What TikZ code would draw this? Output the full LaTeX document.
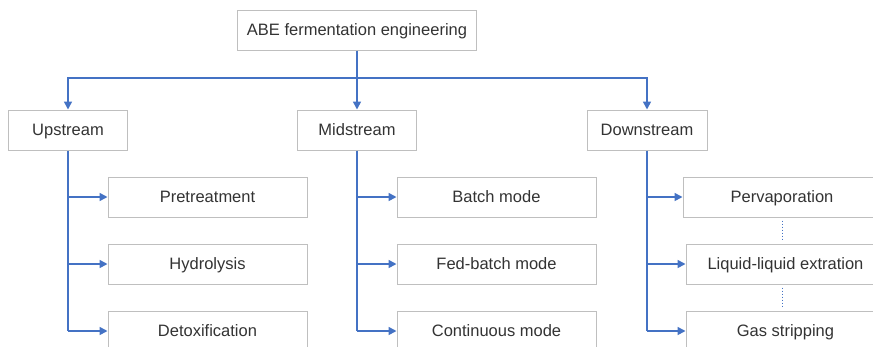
\documentclass[tikz,border=0pt]{standalone}
\usepackage{fontspec}
\setmainfont{Liberation Sans}
\usetikzlibrary{arrows.meta}
\definecolor{linkblue}{HTML}{4472C4}
\definecolor{boxgray}{HTML}{BFBFBF}
\definecolor{textgray}{HTML}{333333}
\tikzset{
  box/.style={draw=boxgray, line width=1pt, fill=white, inner sep=0pt,
    minimum height=40pt, text=textgray, text height=13pt, text depth=3pt,
    font=\fontsize{16.5}{19}\selectfont},
  trunk/.style={draw=linkblue, line width=1.6pt},
  flow/.style={trunk, -{Triangle[length=8pt,width=8pt]}},
  link/.style={draw=linkblue, line width=1pt, dotted, shorten >=3pt, shorten <=3pt}
}
\begin{document}
\begin{tikzpicture}[x=1pt,y=-1pt]
  \useasboundingbox (0,0) rectangle (873,346);
  \clip (0,0) rectangle (873,346);
  \fill[white] (0,0) rectangle (873,346);

  % root and the three stages
  \node[box, minimum width=239pt] (abe) at (357,30) {ABE fermentation engineering};
  \node[box, minimum width=119pt] (up)   at (68,130)  {Upstream};
  \node[box, minimum width=119pt] (mid)  at (357,130) {Midstream};
  \node[box, minimum width=120pt] (down) at (647,130) {Downstream};

  % upstream steps
  \node[box, minimum width=199pt] (pre) at (207.5,197) {Pretreatment};
  \node[box, minimum width=199pt] (hyd) at (207.5,264) {Hydrolysis};
  \node[box, minimum width=199pt] (det) at (207.5,331) {Detoxification};

  % midstream modes
  \node[box, minimum width=199pt] (bat) at (496.5,197) {Batch mode};
  \node[box, minimum width=199pt] (fed) at (496.5,264) {Fed-batch mode};
  \node[box, minimum width=199pt] (con) at (496.5,331) {Continuous mode};

  % downstream separations
  \node[box, minimum width=198pt] (per) at (782,197)   {Pervaporation};
  \node[box, minimum width=199pt] (liq) at (785.5,264) {Liquid-liquid extration};
  \node[box, minimum width=199pt] (gas) at (785.5,331) {Gas stripping};

  % distribution bus below the root
  \coordinate (bus) at (357,78);
  \draw[trunk] (abe.south) -- (bus);
  \draw[flow] (bus) -- (mid.north);
  \draw[flow] (bus) -| (up.north);
  \draw[flow] (bus) -| (down.north);

  % stage trunks
  \draw[trunk] (up.south) -- (up.south |- det.west);
  \draw[trunk] (mid.south) -- (mid.south |- con.west);
  \draw[trunk] (down.south) -- (down.south |- gas.west);

  % stage branches
  \draw[flow] (up.south |- pre.west) -- (pre.west);
  \draw[flow] (up.south |- hyd.west) -- (hyd.west);
  \draw[flow] (up.south |- det.west) -- (det.west);

  \draw[flow] (mid.south |- bat.west) -- (bat.west);
  \draw[flow] (mid.south |- fed.west) -- (fed.west);
  \draw[flow] (mid.south |- con.west) -- (con.west);

  \draw[flow] (down.south |- per.west) -- (per.west);
  \draw[flow] (down.south |- liq.west) -- (liq.west);
  \draw[flow] (down.south |- gas.west) -- (gas.west);

  % links between the separation methods
  \draw[link] (per.south) -- (per.south |- liq.north);
  \draw[link] (liq.south -| per.south) -- (per.south |- gas.north);
\end{tikzpicture}
\end{document}
